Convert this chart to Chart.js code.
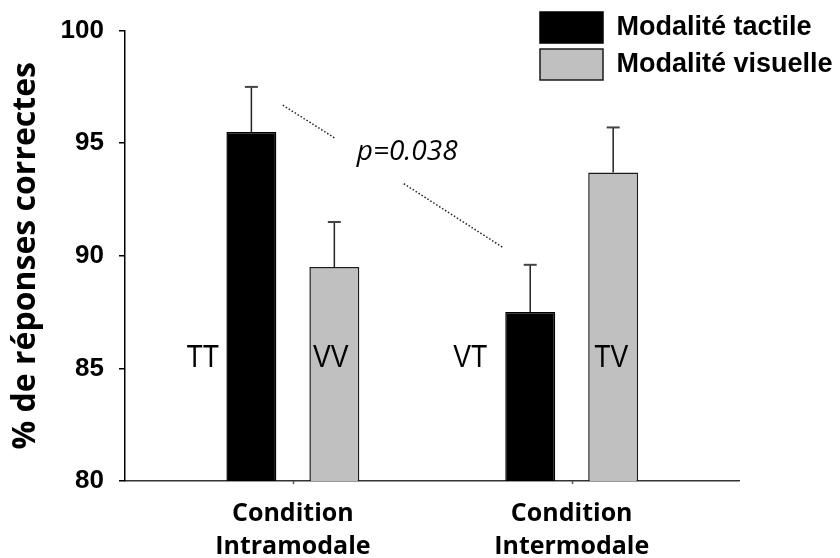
<!DOCTYPE html>
<html>
<head>
<meta charset="utf-8">
<script src="https://cdn.jsdelivr.net/npm/chart.js@4/dist/chart.umd.min.js"></script>
<style>
  html, body { margin: 0; padding: 0; background: #fff; }
  #wrap { width: 840px; height: 558px; position: relative; }
</style>
</head>
<body>
<div id="wrap"><canvas id="c"></canvas></div>
<script>
// Conditions on the x axis (two lines each)
const conditions = [['Condition', 'Intramodale'], ['Condition', 'Intermodale']];
const seriesNames = ['Modalité tactile', 'Modalité visuelle'];
// Mean % of correct responses
const tactile = [95.5, 87.5];
const visuelle = [89.5, 93.7];
// Standard errors (drawn upward only)
const tactileErr = [2.0, 2.1];
const visuelleErr = [2.0, 2.0];
// Condition codes written beside each bar
const tactileTags = ['TT', 'VT'];
const visuelleTags = ['VV', 'TV'];
const yTicks = [80, 85, 90, 95, 100];
const pLabel = 'p=0.038';

const errors = [tactileErr, visuelleErr];
const tags = [tactileTags, visuelleTags];

// Moves the legend to the upper right corner, above the plot area
const legendPlacement = {
  id: 'legendPlacement',
  afterLayout(chart, args, opts) {
    const lg = chart.legend;
    if (!lg) return;
    const w = lg.width, h = lg.height;
    lg.left = opts.x; lg.top = opts.y;
    lg.right = opts.x + w; lg.bottom = opts.y + h;
  }
};

// Short tick marks under each condition on the x axis
const conditionTicks = {
  id: 'conditionTicks',
  afterDraw(chart, args, opts) {
    const ctx = chart.ctx;
    const xs = chart.scales.x;
    ctx.save();
    ctx.strokeStyle = opts.color;
    ctx.lineWidth = opts.width;
    xs.ticks.forEach(t => {
      const px = Math.round(xs.getPixelForValue(t.value)) + 0.5;
      ctx.beginPath();
      ctx.moveTo(px, xs.top);
      ctx.lineTo(px, xs.top + opts.length);
      ctx.stroke();
    });
    ctx.restore();
  }
};

// Upper error bars with caps
const errorBars = {
  id: 'errorBars',
  afterDatasetsDraw(chart, args, opts) {
    const ctx = chart.ctx;
    const ys = chart.scales.y;
    chart.data.datasets.forEach((ds, d) => {
      const meta = chart.getDatasetMeta(d);
      meta.data.forEach((bar, i) => {
        const top = ys.getPixelForValue(ds.data[i].y + errors[d][i]);
        ctx.save();
        ctx.strokeStyle = opts.color;
        ctx.lineWidth = opts.stemWidth;
        ctx.beginPath();
        ctx.moveTo(bar.x, bar.y);
        ctx.lineTo(bar.x, top);
        ctx.stroke();
        ctx.strokeStyle = opts.capColor;
        ctx.lineWidth = opts.capWidth;
        ctx.beginPath();
        ctx.moveTo(bar.x - opts.capSize / 2, top);
        ctx.lineTo(bar.x + opts.capSize / 2, top);
        ctx.stroke();
        ctx.restore();
      });
    });
  }
};

// Condition codes, dotted comparison line and p value
const annotations = {
  id: 'annotations',
  afterDraw(chart, args, opts) {
    const ctx = chart.ctx;
    const xs = chart.scales.x, ys = chart.scales.y;
    ctx.save();
    ctx.fillStyle = '#000';
    ctx.font = opts.tagFont;
    ctx.textAlign = 'center';
    ctx.textBaseline = 'middle';
    tags.forEach((list, d) => {
      list.forEach((t, i) => {
        const px = xs.getPixelForValue(i + opts.tagOffsets[d][i]);
        const py = ys.getPixelForValue(opts.tagLevel);
        ctx.save();
        ctx.translate(px, py);
        ctx.scale(opts.tagStretch, 1);
        ctx.fillText(t, 0, 0);
        ctx.restore();
      });
    });
    ctx.strokeStyle = '#222';
    ctx.lineWidth = 1.5;
    ctx.setLineDash([1.5, 2]);
    opts.segments.forEach(s => {
      ctx.beginPath();
      ctx.moveTo(xs.getPixelForValue(s[0]), ys.getPixelForValue(s[1]));
      ctx.lineTo(xs.getPixelForValue(s[2]), ys.getPixelForValue(s[3]));
      ctx.stroke();
    });
    ctx.setLineDash([]);
    ctx.font = opts.pFont;
    ctx.fillStyle = '#000';
    ctx.fillText(pLabel, xs.getPixelForValue(opts.pAt[0]), ys.getPixelForValue(opts.pAt[1]));
    ctx.restore();
  }
};

function draw() {
  new Chart(document.getElementById('c'), {
    type: 'bar',
    data: {
      datasets: [
        {
          label: seriesNames[0],
          data: tactile.map((v, i) => ({ x: i, y: v })),
          backgroundColor: '#000000',
          borderColor: '#000000',
          borderWidth: 1.5
        },
        {
          label: seriesNames[1],
          data: visuelle.map((v, i) => ({ x: i, y: v })),
          backgroundColor: '#c0c0c0',
          borderColor: '#1a1a1a',
          borderWidth: 1.5
        }
      ]
    },
    plugins: [legendPlacement, conditionTicks, errorBars, annotations],
    options: {
      responsive: true,
      maintainAspectRatio: false,
      animation: false,
      categoryPercentage: 0.595,
      barPercentage: 0.602,
      layout: { padding: { top: 28, right: 101, bottom: 0, left: 0 } },
      scales: {
        x: {
          type: 'linear',
          min: -0.602,
          max: 1.6,
          offset: false,
          afterBuildTicks: s => { s.ticks = conditions.map((c, i) => ({ value: i })); },
          afterFit: s => { s.height = 77; },
          ticks: {
            callback: (v, i) => conditions[i],
            font: { family: 'Open Sans', weight: 'bold', size: 25, lineHeight: 1.3 },
            color: '#000',
            padding: 17,
            maxRotation: 0,
            autoSkip: false
          },
          grid: { display: false, drawTicks: false },
          border: { display: true, color: '#333', width: 1.5 }
        },
        y: {
          min: 80,
          max: 100,
          afterBuildTicks: s => { s.ticks = yTicks.map(v => ({ value: v })); },
          afterFit: s => { s.width = 125; },
          ticks: {
            font: { family: 'Liberation Sans', weight: 'bold', size: 26 },
            color: '#000',
            padding: 15
          },
          grid: { display: true, drawOnChartArea: false, drawTicks: true, tickLength: 6, color: '#000', lineWidth: 1.5 },
          border: { display: true, color: '#000', width: 1.5 },
          title: {
            display: true,
            text: '% de réponses correctes',
            font: { family: 'Open Sans', weight: 'bold', size: 32 },
            color: '#000',
            padding: { top: 7 }
          }
        }
      },
      plugins: {
        tooltip: { enabled: false },
        legend: {
          position: 'chartArea',
          align: 'start',
          labels: {
            boxWidth: 63,
            boxHeight: 31,
            padding: 6,
            color: '#000',
            font: { family: 'Liberation Sans', weight: 'bold', size: 27 }
          }
        },
        legendPlacement: { x: 534, y: 6 },
        conditionTicks: { color: '#555', width: 1.5, length: 3 },
        errorBars: { color: '#222', capColor: '#444', stemWidth: 1.5, capWidth: 2, capSize: 13 },
        annotations: {
          tagFont: '31px "Liberation Sans", sans-serif',
          tagStretch: 0.86,
          tagLevel: 85.45,
          tagOffsets: [[-0.323, -0.364], [0.136, 0.142]],
          segments: [[-0.036, 96.69, 0.150, 95.23], [0.398, 93.20, 0.752, 90.38]],
          pFont: 'italic 28px "Open Sans", sans-serif',
          pAt: [0.41, 94.6]
        }
      }
    }
  });
}

const fontsToLoad = [
  'bold 25px "Open Sans"', 'italic 28px "Open Sans"', 'bold 25px "Liberation Sans"', '31px "Liberation Sans"'
];
Promise.all(fontsToLoad.map(f => document.fonts.load(f).catch(() => null))).then(draw, draw);
</script>
</body>
</html>
